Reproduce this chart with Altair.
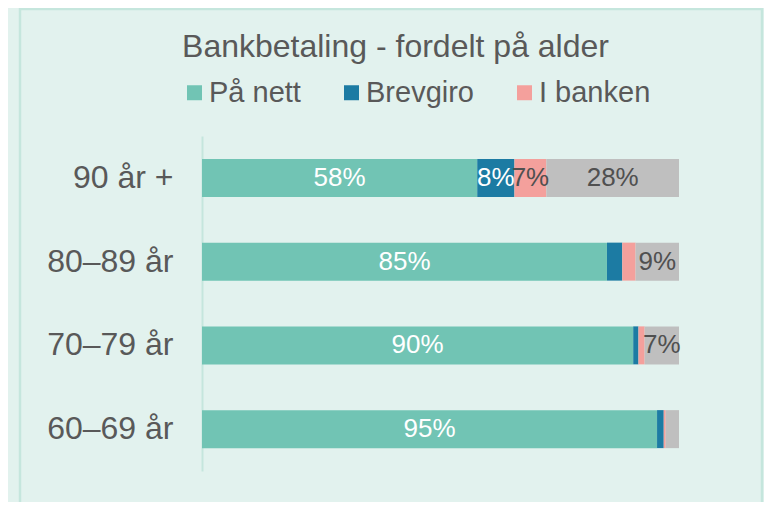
import altair as alt
import pandas as pd

title_text = "Bankbetaling - fordelt på alder"
categories = ["90 år +", "80–89 år", "70–79 år", "60–69 år"]
series = ["På nett", "Brevgiro", "I banken", "Annet"]
pa_nett = [57.7, 84.9, 90.4, 95.4]
brevgiro = [7.8, 3.2, 1.1, 1.4]
i_banken = [6.7, 2.8, 1.3, 0.4]
annet = [27.8, 9.1, 7.2, 2.8]
colors = ["#71C4B4", "#1C7BA3", "#F4A09C", "#BFBFBF"]
legend_series = ["På nett", "Brevgiro", "I banken"]

rows = []
for ci, cat in enumerate(categories):
    for si, (name, vals) in enumerate(zip(series, [pa_nett, brevgiro, i_banken, annet])):
        rows.append({"cat": cat, "series": name, "idx": si, "value": vals[ci]})
df = pd.DataFrame(rows)

FONT = "Liberation Sans"
TXT = "#595959"

base = alt.Chart(df).transform_stack(
    stack="value", groupby=["cat"], as_=["x0", "x1"], sort=[alt.SortField("idx")]
).transform_calculate(mid="(datum.x0 + datum.x1) / 2")

y_enc = alt.Y(
    "cat:N",
    sort=categories,
    scale=alt.Scale(paddingInner=0.546, paddingOuter=0.273),
    axis=alt.Axis(
        title=None,
        labelFontSize=32,
        labelColor=TXT,
        labelFont=FONT,
        ticks=False,
        tickSize=0,
        labelPadding=29,
        domainColor="#C5E6DD",
        domainWidth=2,
        grid=False,
        labelLimit=300,
    ),
)
x_scale = alt.Scale(domain=[0, 100], nice=False, zero=True)

bars = base.mark_bar(size=38).encode(
    y=y_enc,
    x=alt.X("x0:Q", scale=x_scale, axis=None),
    x2="x1:Q",
    color=alt.Color(
        "series:N",
        scale=alt.Scale(domain=series, range=colors),
        legend=alt.Legend(
            orient="none",
            legendX=-22,
            legendY=-58,
            direction="horizontal",
            title=None,
            values=legend_series,
            symbolType="square",
            symbolSize=225,
            symbolStrokeWidth=0,
            labelFontSize=29,
            labelFont=FONT,
            labelColor=TXT,
            labelOffset=0,
            columnPadding=36,
            labelLimit=300,
        ),
    ),
)

labels = base.transform_filter("datum.value >= 5").transform_calculate(
    lab="format(datum.value, '.0f') + '%'"
).mark_text(font=FONT, fontSize=26, baseline="middle", align="center").encode(
    y=alt.Y("cat:N", sort=categories),
    x=alt.X("mid:Q", scale=x_scale),
    text="lab:N",
    color=alt.condition(
        "datum.series == 'På nett' || datum.series == 'Brevgiro'",
        alt.value("#FFFFFF"),
        alt.value("#505050"),
    ),
)

border = alt.Chart(alt.Data(values=[{"a": 1}])).mark_rect(
    fillOpacity=0, stroke="#C5E6DD", strokeWidth=2.5
).encode(
    x=alt.value(-182), x2=alt.value(560), y=alt.value(-127), y2=alt.value(420)
)

title = alt.Chart(alt.Data(values=[{"t": title_text}])).mark_text(
    font=FONT, fontSize=32, color=TXT, align="center", baseline="alphabetic"
).encode(
    text="t:N", x=alt.value(193.5), y=alt.value(-79)
)

chart = alt.layer(border, bars, labels, title).properties(
    width=477,
    height=335,
    autosize=alt.AutoSizeParams(type="none"),
    padding={"left": 194, "top": 128, "right": 85, "bottom": 31},
    background="#E2F2EE",
).configure_view(stroke=None)

chart.save("out.html", embed_options={"renderer": "svg", "actions": False})
